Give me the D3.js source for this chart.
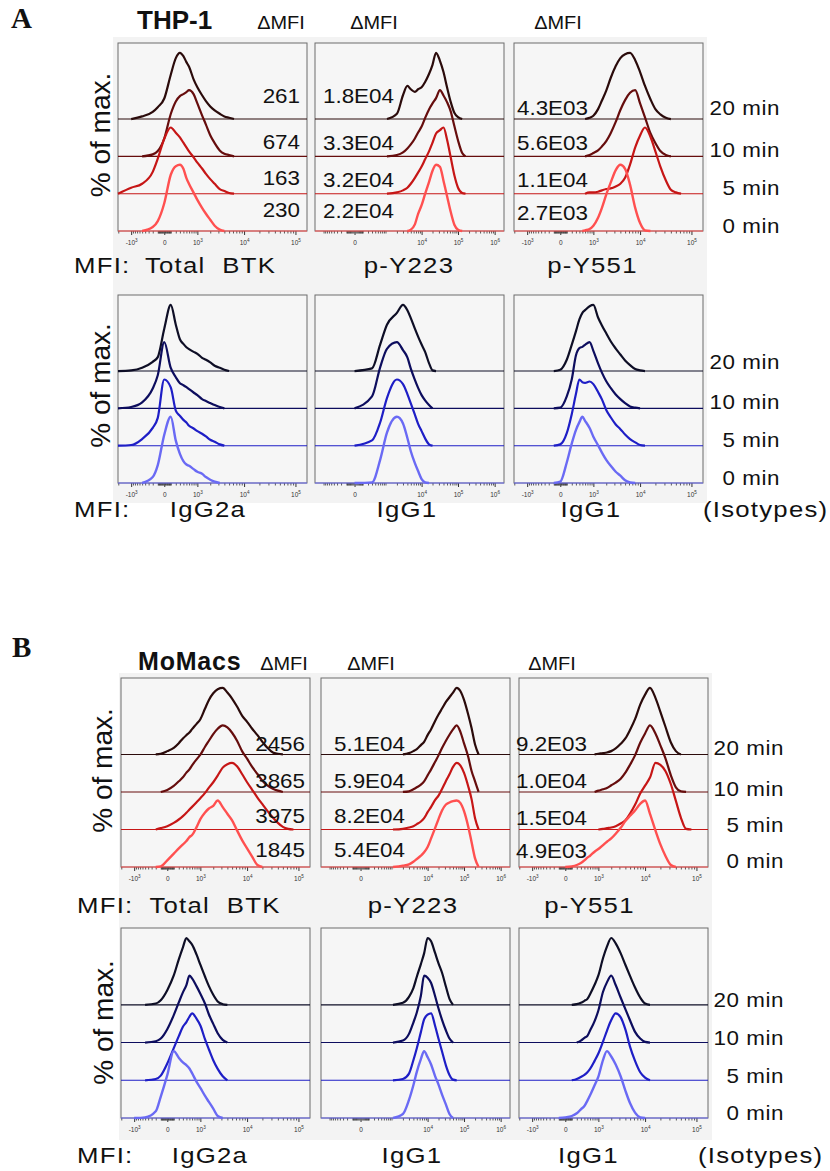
<!DOCTYPE html>
<html>
<head>
<meta charset="utf-8">
<script src="https://cdn.jsdelivr.net/npm/d3@7"></script>
<style>
  body { margin: 0; background: #fff; }
  svg { display: block; }
</style>
</head>
<body>
<svg id="fig" width="830" height="1171"></svg>
<script>
// ---------------------------------------------------------------
// Histogram bin centres (fluorescence units) for the two display
// axes: the standard biexponential axis (-10^3 .. 10^5) and the wide
// axis used for p-Y223 / IgG1 (0 .. 10^6).
// ---------------------------------------------------------------
const binsStd = [-1000,-500,-200,-100,0,100,200,300,400,500,600,800,1000,1300,1600,2000,2500,
  3200,4000,5000,6300,8000,10000,12500,16000,20000,25000,32000,40000,50000,63000,80000,100000];
const binsWide = [-1000,0,300,600,1000,2000,3000,4000,5000,6500,8000,10000,12500,16000,20000,
  25000,32000,40000,50000,63000,80000,100000,130000,160000,200000,250000,320000,400000,500000,
  630000,800000,1000000];

const timepoints = ["20 min", "10 min", "5 min", "0 min"];

// Tick marks and labels
const stdMajorTicks = [-1000, 0, 1000, 10000, 100000];
const stdTickLabels = [["-10","3"], ["0",""], ["10","3"], ["10","4"], ["10","5"]];
const wideMajorTicks = [0, 10000, 100000, 1000000];
const wideTickLabels = [["0",""], ["10","4"], ["10","5"], ["10","6"]];

// ---------------- THP-1 (% of max, rows: 20, 10, 5, 0 min) ----------------
const thpTotalBTK = [
  [0,4,11,18,31,67,92,100,95,86,79,60,48,36,27,19,13,8,4,2,0,0,0,0,0,0,0,0,0,0,0,0,0],
  [0,0,3,8,27,64,83,91,94,97,100,94,80,62,48,32,20,9,4,2,0,0,0,0,0,0,0,0,0,0,0,0,0],
  [9,15,33,53,83,100,92,85,77,70,64,55,47,38,30,22,15,7,4,1,0,0,0,0,0,0,0,0,0,0,0,0,0],
  [0,0,6,15,42,85,98,100,94,80,71,58,47,35,26,17,8,2,0,0,0,0,0,0,0,0,0,0,0,0,0,0,0]
];
const thpPY223 = [
  [0,0,0,0,0,8,36,50,45,41,45,48,56,68,82,100,88,71,48,26,9,3,0,0,0,0,0,0,0,0,0,0],
  [0,0,0,0,0,2,6,12,18,27,36,45,58,71,80,88,100,92,82,68,45,24,5,0,0,0,0,0,0,0,0,0],
  [0,0,0,0,0,2,5,9,15,24,32,41,52,64,77,91,96,100,82,55,27,9,1,0,0,0,0,0,0,0,0,0],
  [0,0,0,0,0,0,0,0,2,10,26,39,56,74,91,100,97,76,53,29,9,2,0,0,0,0,0,0,0,0,0,0]
];
const thpPY551 = [
  [0,0,0,0,0,0,0,0,0,0,0,2,5,15,28,43,62,80,92,98,100,89,71,50,30,15,7,2,0,0,0,0,0],
  [0,0,0,0,0,0,0,0,0,0,0,2,5,9,15,23,35,52,70,85,96,100,80,59,35,20,8,2,0,0,0,0,0],
  [0,0,0,0,0,0,0,0,0,0,0,2,2,3,5,7,8,11,15,24,44,70,88,100,86,64,41,20,6,2,0,0,0],
  [0,0,0,0,0,0,0,0,0,0,1,3,8,20,35,55,73,92,100,94,70,35,12,1,0,0,0,0,0,0,0,0,0]
];
const thpIgG2a = [
  [1,5,14,21,64,100,70,48,41,36,33,29,26,20,17,13,8,5,2,0,0,0,0,0,0,0,0,0,0,0,0,0,0],
  [2,9,30,50,100,61,47,38,35,32,29,24,20,14,11,8,5,2,0,0,0,0,0,0,0,0,0,0,0,0,0,0,0],
  [1,10,27,42,100,88,53,45,39,35,30,26,22,18,14,9,6,2,0,0,0,0,0,0,0,0,0,0,0,0,0,0,0],
  [0,0,9,27,73,100,64,44,33,28,26,21,17,14,9,5,2,0,0,0,0,0,0,0,0,0,0,0,0,0,0,0,0]
];
const thpIgG1Y223 = [
  [0,0,4,40,70,88,100,92,80,64,52,40,29,12,1,0,0,0,0,0,0,0,0,0,0,0,0,0,0,0,0,0],
  [0,0,18,62,90,100,88,77,60,43,31,20,12,5,0,0,0,0,0,0,0,0,0,0,0,0,0,0,0,0,0,0],
  [0,0,8,35,72,100,93,78,64,47,33,22,11,2,0,0,0,0,0,0,0,0,0,0,0,0,0,0,0,0,0,0],
  [0,0,1,35,76,100,90,68,48,30,18,6,1,0,0,0,0,0,0,0,0,0,0,0,0,0,0,0,0,0,0,0]
];
const thpIgG1Y551 = [
  [0,0,0,0,2,17,40,60,78,88,92,98,100,81,69,57,45,34,25,16,9,3,1,0,0,0,0,0,0,0,0,0,0],
  [0,0,0,0,1,18,44,80,91,93,96,100,87,68,54,41,31,21,14,8,3,1,0,0,0,0,0,0,0,0,0,0,0],
  [0,0,0,0,2,19,48,78,100,96,95,97,93,81,70,54,43,32,25,17,10,5,1,0,0,0,0,0,0,0,0,0,0],
  [0,0,0,0,2,31,60,80,92,100,94,83,70,57,46,35,26,17,11,4,1,0,0,0,0,0,0,0,0,0,0,0,0]
];

// ---------------- MoMacs ----------------
const moTotalBTK = [
  [0,0,0,1,5,10,17,24,29,33,38,46,53,69,82,92,98,100,93,84,72,58,49,39,29,19,10,3,1,0,0,0,0],
  [0,0,0,0,3,9,16,22,29,34,40,49,56,68,77,87,95,100,97,89,77,61,50,38,27,17,10,5,2,0,0,0,0],
  [0,0,0,2,5,10,15,20,25,30,34,41,47,55,63,71,81,93,98,100,95,83,71,60,48,38,28,18,10,4,1,0,0],
  [0,0,0,1,10,20,28,34,39,45,48,60,72,82,88,92,100,90,80,70,55,40,28,16,3,0,0,0,0,0,0,0,0]
];
const moPY223 = [
  [0,0,0,0,0,0,2,5,8,14,19,29,38,50,60,69,79,86,93,100,95,82,60,40,15,0,0,0,0,0,0,0],
  [0,0,0,0,0,0,1,4,7,11,16,25,34,45,55,66,77,86,94,100,90,73,53,32,16,0,0,0,0,0,0,0],
  [0,0,0,0,0,1,3,5,8,12,17,26,34,44,51,61,73,83,94,100,96,85,65,46,17,0,0,0,0,0,0,0],
  [0,0,0,0,0,2,4,8,12,17,22,30,43,58,72,85,94,97,99,100,96,84,61,38,13,0,0,0,0,0,0,0]
];
const moPY551 = [
  [0,0,0,0,0,0,0,0,0,0,0,0,1,2,3,5,9,16,24,37,53,75,90,100,85,64,42,18,5,0,0,0,0],
  [0,0,0,0,0,0,0,0,0,0,0,0,2,4,6,10,14,20,29,41,55,74,88,100,88,70,51,25,7,1,0,0,0],
  [0,0,0,0,0,0,0,0,0,0,0,0,0,1,2,3,5,9,14,24,37,54,66,78,100,97,88,68,43,18,1,0,0],
  [0,0,0,0,0,1,3,6,10,14,17,23,27,33,38,43,50,59,69,77,85,95,100,80,55,34,17,3,0,0,0,0,0]
];
const moIgG2a = [
  [0,0,2,7,22,44,68,86,100,95,90,75,60,42,28,15,5,1,0,0,0,0,0,0,0,0,0,0,0,0,0,0,0],
  [0,0,2,6,20,41,60,75,86,100,96,84,73,58,42,28,14,4,0,0,0,0,0,0,0,0,0,0,0,0,0,0,0],
  [0,0,2,7,25,48,66,80,87,95,100,92,82,61,46,30,17,6,0,0,0,0,0,0,0,0,0,0,0,0,0,0,0],
  [0,1,10,32,64,100,90,83,79,74,67,54,45,33,24,14,3,0,0,0,0,0,0,0,0,0,0,0,0,0,0,0,0]
];
const moIgG1Y223 = [
  [0,0,0,0,0,3,12,25,42,61,77,100,95,78,62,48,27,9,0,0,0,0,0,0,0,0,0,0,0,0,0,0],
  [0,0,0,0,0,3,13,30,45,70,100,97,89,70,51,34,18,6,0,0,0,0,0,0,0,0,0,0,0,0,0,0],
  [0,0,0,0,0,2,10,30,48,72,91,98,100,82,62,43,22,8,1,0,0,0,0,0,0,0,0,0,0,0,0,0],
  [0,0,0,0,0,6,27,49,69,88,100,91,80,63,50,35,20,6,0,0,0,0,0,0,0,0,0,0,0,0,0,0]
];
const moIgG1Y551 = [
  [0,0,0,0,0,0,1,3,6,9,16,30,44,70,87,100,92,77,60,43,26,11,2,0,0,0,0,0,0,0,0,0,0],
  [0,0,0,0,0,0,0,3,7,10,18,32,48,76,90,100,86,67,50,33,16,6,1,0,0,0,0,0,0,0,0,0,0],
  [0,0,0,0,0,0,2,5,8,12,17,29,40,58,74,90,100,94,76,50,29,12,4,0,0,0,0,0,0,0,0,0,0],
  [0,0,0,0,1,3,7,13,18,26,34,49,62,87,100,92,80,62,41,22,8,1,0,0,0,0,0,0,0,0,0,0,0]
];

// Delta-MFI annotations (20, 10, 5, 0 min)
const thpDeltaBTK   = ["261", "674", "163", "230"];
const thpDeltaY223  = ["1.8E04", "3.3E04", "3.2E04", "2.2E04"];
const thpDeltaY551  = ["4.3E03", "5.6E03", "1.1E04", "2.7E03"];
const moDeltaBTK    = ["2456", "3865", "3975", "1845"];
const moDeltaY223   = ["5.1E04", "5.9E04", "8.2E04", "5.4E04"];
const moDeltaY551   = ["9.2E03", "1.0E04", "1.5E04", "4.9E03"];

const stainLabels   = ["Total\u00A0 BTK", "p-Y223", "p-Y551"];
const isotypeLabels = ["IgG2a", "IgG1", "IgG1"];

// Line colours, ordered 20, 10, 5, 0 min
const redShades  = ["#2b0b0b", "#660d0d", "#c61616", "#ff5050"];
const blueShades = ["#0e0e26", "#0d0d5e", "#1e1ec6", "#6a6af4"];

// ---------------------------------------------------------------
const SANS = "'Liberation Sans', Arial, Helvetica, sans-serif";
const SERIF = "'Liberation Serif', 'Times New Roman', serif";
const svg = d3.select("#fig");
const PW = 189;

const axisKinds = {
  std:  { bins: binsStd,  constant: 300, domain: [-2030, 167000],  major: stdMajorTicks,  labels: stdTickLabels },
  wide: { bins: binsWide, constant: 150, domain: [-1650, 1800000], major: wideMajorTicks, labels: wideTickLabels }
};

function minorTicks(dom) {
  const out = [];
  [10, 100, 1000, 10000, 100000].forEach(dec => {
    for (let k = 2; k <= 9; k++) {
      [k * dec, -k * dec].forEach(v => { if (v > dom[0] && v < dom[1]) out.push(v); });
    }
  });
  [10, 100].forEach(v => out.push(v, -v));
  return out;
}

function label(g, x, y, s, o = {}) {
  return g.append("text")
    .attr("transform", `translate(${x},${y}) scale(${o.sx || 1},1)` + (o.rot ? ` rotate(${o.rot})` : ""))
    .attr("font-size", o.size || 20)
    .attr("text-anchor", o.anchor || "start")
    .attr("letter-spacing", o.ls || 0)
    .attr("font-weight", o.bold ? "bold" : null)
    .style("font-family", o.serif ? SERIF : SANS)
    .attr("fill", "#111")
    .text(s);
}

function drawPlot(g, x0, top, h, kindName, sets, shades) {
  const kind = axisKinds[kindName];
  const x = d3.scaleSymlog().constant(kind.constant).domain(kind.domain).range([x0, x0 + PW]);
  const bottom = top + h;
  const step = h * 0.1985;
  const yh = d3.scaleLinear().domain([0, 100]).range([0, h * 0.352]);

  g.append("rect").attr("x", x0).attr("y", top).attr("width", PW).attr("height", h)
    .attr("fill", "#f6f6f6").attr("stroke", "#6c6c6c").attr("stroke-width", 1);

  // minor + major ticks along the bottom edge
  const minorG = g.append("g").attr("transform", `translate(0,${bottom})`).attr("color", "#333")
    .call(d3.axisBottom(x).tickValues(minorTicks(kind.domain)).tickSize(2.5).tickFormat(""));
  minorG.select(".domain").remove();
  minorG.selectAll("line").attr("stroke-width", 0.8);
  const majorG = g.append("g").attr("transform", `translate(0,${bottom})`).attr("color", "#333")
    .call(d3.axisBottom(x).tickValues(kind.major).tickSize(4).tickPadding(5).tickFormat(""));
  majorG.select(".domain").remove();
  majorG.selectAll(".tick text").each(function (d, i) {
    const t = d3.select(this).attr("font-size", 6.5).attr("fill", "#333").style("font-family", SANS);
    const lab = kind.labels[i];
    t.append("tspan").text(lab[0]);
    if (lab[1]) t.append("tspan").attr("dy", -2.6).attr("font-size", 4.6).text(lab[1]);
  });

  // stacked histograms: index 0 = 20 min (top) ... index 3 = 0 min (bottom)
  sets.forEach((vals, k) => {
    const base = bottom - (3 - k) * step;
    const col = shades[k];
    g.append("line").attr("x1", x0).attr("x2", x0 + PW).attr("y1", base).attr("y2", base)
      .attr("stroke", col).attr("stroke-width", 1.1);
    const pts = kind.bins.map((b, i) => [b, vals[i]]);
    let first = pts.findIndex(p => p[1] > 0);
    let last = pts.length - 1;
    while (last > 0 && pts[last][1] <= 0) last--;
    let seg = pts.slice(Math.max(0, first - 1), Math.min(pts.length, last + 2));
    if (first === 0) seg = [[kind.domain[0], 0]].concat(seg);
    const line = d3.line().x(d => x(d[0])).y(d => base - yh(d[1])).curve(d3.curveMonotoneX);
    g.append("path").attr("d", line(seg)).attr("fill", "none").attr("stroke", col)
      .attr("stroke-width", k === 3 ? 2.4 : 2.2).attr("stroke-linejoin", "round");
  });
}

// ---------------------------------------------------------------
// Layout of the four plot rows
const rows = [
  { top: 43,  h: 188, xs: [118, 315, 514], shades: redShades,  sets: [thpTotalBTK, thpPY223, thpPY551] },
  { top: 295, h: 188, xs: [118, 315, 514], shades: blueShades, sets: [thpIgG2a, thpIgG1Y223, thpIgG1Y551] },
  { top: 678, h: 189, xs: [121, 321, 519], shades: redShades,  sets: [moTotalBTK, moPY223, moPY551] },
  { top: 928, h: 190, xs: [121, 321, 519], shades: blueShades, sets: [moIgG2a, moIgG1Y223, moIgG1Y551] }
];
const kindsPerCol = ["std", "wide", "std"];

// light panel backgrounds
svg.append("rect").attr("x", 113).attr("y", 37).attr("width", 594).attr("height", 466).attr("fill", "#f3f3f3");
svg.append("rect").attr("x", 119).attr("y", 673).attr("width", 593).attr("height", 467).attr("fill", "#f3f3f3");

const plotsG = svg.append("g");
rows.forEach(r => r.xs.forEach((x0, c) => drawPlot(plotsG, x0, r.top, r.h, kindsPerCol[c], r.sets[c], r.shades)));

const T = svg.append("g");

// Panel letters and cell-type titles
label(T, 11, 28, "A", { size: 29, bold: true, serif: true });
label(T, 12, 657, "B", { size: 29, bold: true, serif: true });
label(T, 137, 29, "THP-1", { size: 26, bold: true });
label(T, 138, 670, "MoMacs", { size: 25, bold: true, ls: 0.8 });

// Delta-MFI headers
[281, 374, 558].forEach(cx => label(T, cx, 29, "\u0394MFI", { size: 19, anchor: "middle", sx: 1.05 }));
[284, 371, 552].forEach(cx => label(T, cx, 670, "\u0394MFI", { size: 19, anchor: "middle", sx: 1.05 }));

// Delta-MFI values inside the plots
function valueCol(vals, x, ys, anchor) {
  vals.forEach((v, i) => label(T, x, ys[i], v, { size: 20, sx: 1.12, anchor }));
}
valueCol(thpDeltaBTK,  300, [103, 149, 185, 217], "end");
valueCol(thpDeltaY223, 323, [103, 150, 187, 218], "start");
valueCol(thpDeltaY551, 517, [115, 150, 187, 220], "start");
valueCol(moDeltaBTK,   305, [751, 788, 823, 857], "end");
valueCol(moDeltaY223,  334, [751, 788, 823, 857], "start");
valueCol(moDeltaY551,  516, [751, 788, 825, 858], "start");

// Time-point labels on the right of each row
const timeLabelY = [
  [115, 157, 195, 233],
  [369, 409, 447, 485],
  [755, 796, 832, 868],
  [1007, 1045, 1083, 1120]
];
const timeLabelX = [780, 780, 784, 784];
timeLabelY.forEach((ys, r) => ys.forEach((y, k) =>
  label(T, timeLabelX[r], y, timepoints[k], { size: 20, sx: 1.12, anchor: "end", ls: 0.5 })));

// y-axis titles
[[110, 135], [110, 385.5], [112, 770.5], [113, 1022.5]].forEach(([x, y]) =>
  label(T, x, y, "% of max.", { size: 28, anchor: "middle", rot: -90 }));

// x-axis titles
const axTitle = { size: 23, sx: 1.12, ls: 1.1 };
function titleRow(y, mfiX, names, centers, isotypeX) {
  label(T, mfiX, y, "MFI:", axTitle);
  names.forEach((n, i) => label(T, centers[i], y, n, Object.assign({ anchor: "middle" }, axTitle)));
  if (isotypeX) label(T, isotypeX, y, "(Isotypes)", axTitle);
}
titleRow(273, 74, stainLabels,   [210.5, 409, 592.5]);
titleRow(517, 74, isotypeLabels, [208, 407, 591], 703);
titleRow(913, 77, stainLabels,   [215, 413, 589.5]);
titleRow(1163, 77, isotypeLabels, [210, 412, 588.5], 698);
</script>
</body>
</html>
